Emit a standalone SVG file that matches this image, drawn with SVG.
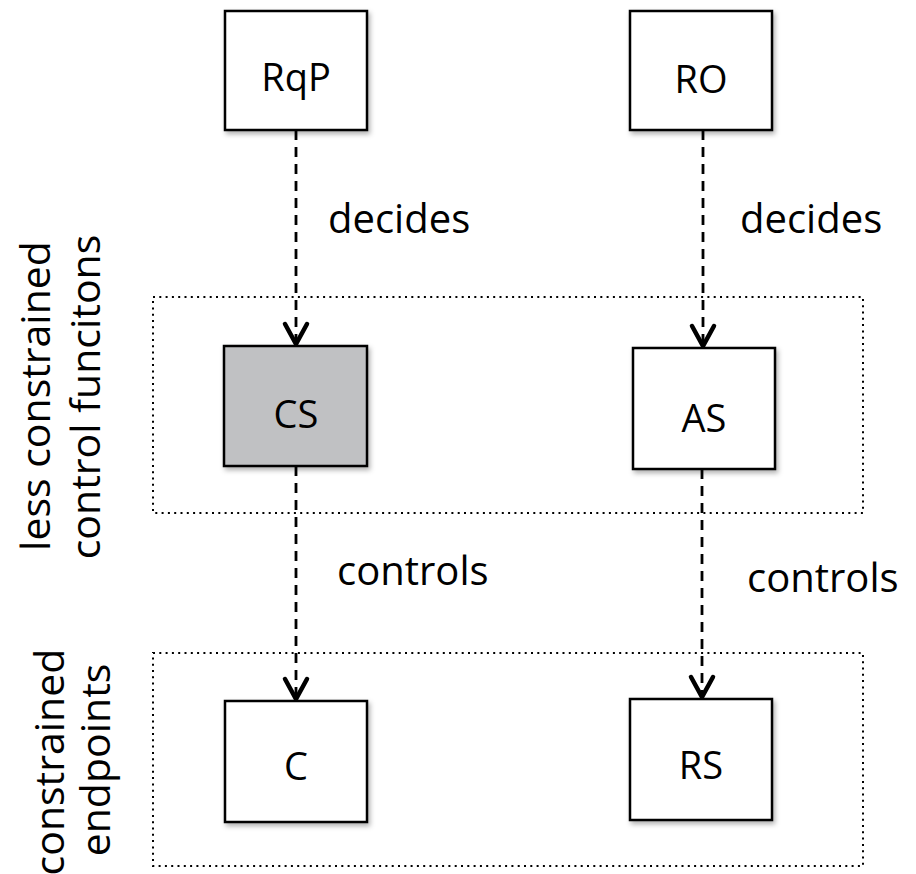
<svg xmlns="http://www.w3.org/2000/svg" width="916" height="874" viewBox="0 0 916 874">
  <style>
    text { font-family: "Open Sans", "Liberation Sans", sans-serif; fill: #000; }
    .box { fill: #fff; stroke: #000; stroke-width: 2.5; filter: url(#shadow); }
    .box.grey { fill: #c0c1c3; }
    .lbl { font-size: 38px; text-anchor: middle; }
    .edge { font-size: 40px; }
    .side { font-size: 41px; text-anchor: middle; }
    .frame { fill: none; stroke: #000; stroke-width: 2; stroke-dasharray: 2 4.3; }
    .conn { fill: none; stroke: #000; stroke-width: 2.8; stroke-dasharray: 10 7; }
    .head { fill: none; stroke: #000; stroke-width: 4.5; stroke-linecap: round; stroke-linejoin: miter; }
  </style>
  <defs>
    <filter id="shadow" x="-10%" y="-10%" width="130%" height="130%">
      <feDropShadow dx="2" dy="3" stdDeviation="2.5" flood-color="#000" flood-opacity="0.3"/>
    </filter>
  </defs>

  <rect width="916" height="874" fill="#fff"/>

  <!-- grouping frames -->
  <g id="frames">
    <rect class="frame" x="153" y="297" width="710" height="216"/>
    <rect class="frame" x="153" y="653" width="710" height="213"/>
  </g>

  <!-- side captions -->
  <g id="captions">
    <text class="side" transform="translate(50,396) rotate(-90)">less constrained</text>
    <text class="side" transform="translate(100,397) rotate(-90)">control funcitons</text>
    <text class="side" transform="translate(64,762) rotate(-90)">constrained</text>
    <text class="side" transform="translate(110,760) rotate(-90)">endpoints</text>
  </g>

  <!-- connectors -->
  <g id="connectors">
    <line class="conn" x1="296" y1="130" x2="296" y2="340"/>
    <polyline class="head" points="285,324 296,344 307,324"/>
    <line class="conn" x1="703" y1="130" x2="703" y2="342"/>
    <polyline class="head" points="692,326 703,346 714,326"/>
    <line class="conn" x1="296" y1="466" x2="296" y2="695"/>
    <polyline class="head" points="285,679 296,699 307,679"/>
    <line class="conn" x1="702" y1="469" x2="702" y2="693"/>
    <polyline class="head" points="691,677 702,697 713,677"/>
    <text class="edge" x="328" y="233">decides</text>
    <text class="edge" x="740" y="233">decides</text>
    <text class="edge" x="337" y="585">controls</text>
    <text class="edge" x="747" y="592">controls</text>
  </g>

  <!-- nodes -->
  <g id="RqP">
    <rect class="box" x="225" y="11" width="142" height="119"/>
    <text class="lbl" x="296" y="91">RqP</text>
  </g>
  <g id="RO">
    <rect class="box" x="630" y="11" width="142" height="119"/>
    <text class="lbl" x="701" y="93">RO</text>
  </g>
  <g id="CS">
    <rect class="box grey" x="224" y="346" width="143" height="120"/>
    <text class="lbl" x="296" y="428">CS</text>
  </g>
  <g id="AS">
    <rect class="box" x="633" y="348" width="142" height="121"/>
    <text class="lbl" x="704" y="432">AS</text>
  </g>
  <g id="C">
    <rect class="box" x="225" y="701" width="142" height="121"/>
    <text class="lbl" x="296" y="780">C</text>
  </g>
  <g id="RS">
    <rect class="box" x="630" y="699" width="142" height="121"/>
    <text class="lbl" x="701" y="779">RS</text>
  </g>
</svg>
